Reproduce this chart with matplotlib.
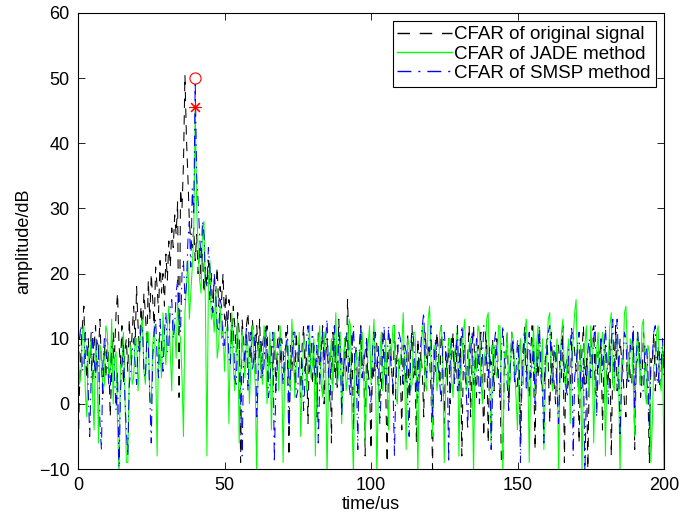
"""
plot.py - CFAR output comparison (original / JADE / SMSP), MATLAB-style figure.
"""
import numpy as np
import matplotlib
matplotlib.use('Agg')
import matplotlib.pyplot as plt

plt.rcParams['font.family'] = ['Liberation Sans', 'DejaVu Sans']

# sample step of the CFAR outputs, us
DT = 0.5

# CFAR of original signal (dB), one row per 10 us
cfar_orig = [
    -9, 2, 8, 12, 15, 7, 4, 10, 6, 11, 3, 9, 12, 5, 8, 13, 6, 1, 9, 4,
    10, 7, -2, 5, 11, 8, 14, 17, 9, 6, 12, 3, 8, 10, 5, 13, 7, 11, 15, 9,
    18, 12, 8, 15, 11, 17, 14, 9, 19, 13, 20, 16, 12, 21, 18, 14, 22, 17, 20, 15,
    23, 19, 25, 21, 27, 24, 29, 26, 31, 1, 33, 30, 37, 50.5, 41, 35, 28, 25, 24, 27,
    22, 26, 20, 24, 19, 23, 17, 21, 18, 22, 16, 20, 14, 19, 17, 21, 15, 18, 16, 20,
    13, 17, 11, 16, 14, 9, 15, 12, 8, 14, 11, -9, 13, 10, 6, 12, 14, 9, 7, 13,
    10, 6, 12, 8, 13, 4, 9, 11, 7, 12, 3, 10, 8, 5, 11, 2, 9, 12, 6, 10,
    8, 4, 11, 7, -8, 9, 5, 10, 3, 11, 6, 8, 1, 9, 12, 5, 7, -3, 10, 6,
    3, 9, 6, -2, 11, 4, 8, 12, 0, 7, 10, 4, 8, -6, 11, 5, 9, 2, 13, 6,
    7, 2, 10, 5, 16, 8, 3, 11, -4, 7, 9, 1, 6, 12, 4, 8, -8, 10, 5, 3,
    -7, 6, 4, 11, 9, 2, 0, 8, 11, 5, 3, -9, 7, 10, 6, 1, 12, 4, 9, 6,
    5, -4, 9, 7, 3, 11, 1, 8, 12, 4, 6, -6, 10, 3, 8, 5, -2, 11, 7, 9,
    7, 2, -10, 9, 5, 11, 8, 3, 12, 6, -3, 8, 4, 10, 0, 7, 11, 5, 9, 2,
    4, 10, -8, 6, 9, 3, 7, 12, -2, 8, 12, 5, 1, 9, 6, 11, 3, -5, 8, 10,
    -6, 7, 6, 10, 2, 8, 10, 4, 4, -9, -9, 6, 7, 11, 0, 5, 11, 8, 5, 2,
    3, 9, -5, 6, 9, 12, 6, 3, 1, 8, 12, 5, -7, 9, 4, 10, 8, 2, 2, 7,
    10, 6, -3, 11, 6, 3, 0, 9, 9, 5, 4, 12, -9, 6, 7, 3, 2, 10, 11, 8,
    5, 9, -6, 4, 8, 12, 3, 7, -10, 5, 6, 11, 12, 2, 1, 8, 7, 10, -4, 6,
    9, 3, 4, 10, -8, 6, 6, 12, 2, 5, 10, 7, 5, 0, -2, 9, 8, 4, 3, 11,
    -7, 6, 7, 10, 1, 4, 11, 8, 4, 2, -9, 7, 6, 11, 2, 5, 9, 3, 5, 8,
    7,
]

# CFAR after JADE separation (dB)
cfar_jade = [
    9, 3, 4, 11, 12, 2, -2, 8, 7, 10, 1, -4, 10, 6, -6, 9, 8, 2, 3, 12,
    11, 4, 5, 13, 0, 7, 8, -3, -11, 6, 6, 11, 2, -9, -9, 5, 9, 3, 4, 10,
    10, 2, 7, 12, 13, 5, 3, 11, 11, 1, 0, 9, 12, 6, -8, 10, 8, 4, 14, 9,
    6, 12, 15, 8, 2, 13, 12, 7, 16, 11, 10, 4, -5, 14, 18, 22, 13, 17, 21, 26,
    45.6, 30, 24, 19, 17, 27, 28, 15, -8, 18, 22, 13, 14, 11, 18, 7, 9, 15, 10, 12,
    5, 11, 12, -3, 9, 14, 6, 2, 8, 13, -6, 4, 11, 7, 4, 10, 9, 0, 6, 12,
    7, 3, -11, 8, 10, 5, 3, 12, 9, 0, 6, 11, -4, 5, 11, 7, 8, 2, 12, 6,
    -9, 4, 9, 10, 4, 2, 13, 8, 1, 6, 7, 11, -5, 3, 10, 9, 2, 7, 12, 4,
    6, 10, -8, 5, 9, 12, 3, 1, 11, 7, -11, 4, 7, 10, 2, 9, 14, 3, 5, 11,
    -3, 6, 10, 2, 4, 13, 12, -2, -11, 7, 8, 4, 1, 9, 11, 5, -6, 3, 9, 12,
    3, 8, 13, 6, -11, 2, 7, 11, 2, 5, 10, 3, -4, 9, 8, 12, 12, 1, 0, 7,
    6, 9, 14, 4, -7, 10, 9, 2, 3, 11, 11, 5, -11, 7, 5, 12, 10, 3, 2, 13,
    15, 6, -5, 9, 8, 2, 4, 11, 12, 7, -9, 3, 6, 10, 10, 4, 1, 8, 9, 12,
    -8, 5, 7, 11, 13, 2, 3, 9, 10, 6, -11, 8, 5, 12, 11, 4, 0, 7, 8, 13,
    14, 3, -6, 9, 9, 5, 4, 12, 12, 2, -11, 8, 7, 11, 2, 4, 11, 10, 6, 1,
    -4, 7, 10, 3, 3, 11, 13, 6, -9, 4, 8, 12, 1, 9, 12, 5, 5, 10, -7, 3,
    9, 13, 14, 4, 2, 8, 7, 10, -11, 5, 11, 13, 4, 2, 8, 10, -3, 6, 10, 14,
    16, 5, 1, 9, -11, 4, 9, 12, 5, 1, 12, 8, -6, 4, 8, 11, 3, 7, 11, 9,
    -8, 5, 7, 12, 14, 3, 2, 9, 10, 4, -11, 7, 6, 14, 15, 8, 4, 10, 9, 3,
    -5, 8, 11, 6, 3, 12, 13, 2, 0, 9, 8, -9, -3, 6, 6, 11, 12, 4, 2, 9,
    -11,
]

# CFAR after SMSP separation (dB)
cfar_smsp = [
    3, 10, 12, 5, 6, 11, 9, 2, -5, 4, 11, 7, 4, 10, 8, -3, -7, 6, 10, 8,
    7, 3, 2, 9, 9, 4, -1, 5, -11, 2, 6, 9, 1, -4, -8, 3, 5, 8, 10, 6,
    3, 9, 8, 12, 12, 5, 4, 10, 9, 1, -6, 7, 11, 13, 7, 4, 13, 9, 5, 11,
    14, 8, 9, 15, 16, 10, 12, 17, 19, 13, 11, 20, 22, 16, 18, 25, 28, 21, 33, 29,
    49.5, 35, 31, 26, 22, 28, 26, 19, 18, 24, 21, 15, 14, 20, 17, 12, 11, 16, 15, 9,
    9, 14, 13, 7, 6, 12, 12, 4, 3, 10, 10, 1, -8, 6, 8, 12, 2, 7, 11, 5,
    7, 11, -2, 4, 9, 10, 4, 6, 12, 8, 1, 3, 8, 11, -9, 2, 6, 9, 10, 7,
    3, 8, 9, 12, -4, 5, 7, 11, 11, 1, 2, 9, 8, 6, -1, 4, 10, 12, 5, 7,
    12, 6, 4, 9, -6, 3, 9, 11, 6, 10, 13, 5, 0, 7, 8, 12, 3, 4, 11, 9,
    -2, 5, 7, 11, 10, 3, 1, 8, 12, 6, 5, -7, 9, 12, 4, 6, 8, 10, 3, 2,
    0, 8, 11, 5, 6, 9, -3, 2, 9, 12, 2, 6, 12, 8, 5, 3, -8, 4, 7, 11,
    10, 6, 3, 9, 8, 1, -5, 7, 11, 10, 6, 3, 1, 8, 9, 12, 14, 6, 4, 9,
    8, 12, -2, 5, 10, 7, 5, 3, 0, 9, 11, 8, 7, -9, 6, 10, 9, 3, 7, 12,
    2, 7, 12, 9, 5, 2, -4, 6, 8, 11, 3, 5, 10, 8, 0, 4, 7, 12, 11, 6,
    4, 9, -7, 2, 9, 11, 6, 4, 1, 8, 12, 7, 5, 3, -1, 6, 8, 10, 3, 5,
    10, 6, -9, 3, 7, 11, 2, 8, 11, 4, 6, 9, 0, 5, 9, 12, 4, 2, -6, 7,
    8, 11, 12, 6, 3, 9, 7, 2, -3, 5, 10, 8, 5, 3, 1, 9, 9, 12, -8, 4,
    6, 9, 11, 4, 2, 7, -11, 3, 8, 10, 4, 6, 10, 12, -2, 5, 7, 10, 5, 8,
    12, 7, 0, 5, 9, 13, 4, 8, 13, 6, -5, 3, 7, 11, 10, 4, 3, 9, 8, 12,
    -1, 6, 11, 8, 6, 2, 2, 9, 9, 5, -4, 6, 7, 11, 12, 4, 3, 8, 6, 10,
    4,
]

# detected peaks (time us, dB)
peak_smsp = (40, 50)
peak_jade = (40, 45.6)


def main():
    fig = plt.figure(figsize=(6.8, 5.17), dpi=100)
    ax = fig.add_axes([0.1147, 0.0928, 0.8618, 0.8821])

    series = [
        (cfar_orig, dict(color='k', ls=(0, (9, 7)), label='CFAR of original signal')),
        (cfar_jade, dict(color=(0, 1, 0), ls='-', label='CFAR of JADE method')),
        (cfar_smsp, dict(color=(0, 0, 1), ls=(0, (10, 5, 1.5, 5)),
                         label='CFAR of SMSP method')),
    ]
    for vals, kw in series:
        t = np.arange(len(vals)) * DT
        ax.plot(t, vals, lw=0.75, **kw)

    ax.plot(*peak_smsp, marker='o', ms=8, mfc='none', mec='r', mew=0.8)
    ax.plot(*peak_jade, marker=(8, 2, 0), ms=9, color='r', mew=0.8)

    ax.set_xlim(0, 200)
    ax.set_ylim(-10, 60)
    ax.set_xticks(np.arange(0, 201, 50))
    ax.set_yticks(np.arange(-10, 61, 10))
    ax.tick_params(direction='in', top=True, right=True, labelsize=13,
                   length=5, width=0.6, pad=6)
    for s in ax.spines.values():
        s.set_linewidth(0.8)

    ax.set_xlabel('time/us', fontsize=13, labelpad=1)
    ax.set_ylabel('amplitude/dB', fontsize=13, labelpad=5)

    leg = ax.legend(loc='upper right', fontsize=13.5, fancybox=False,
                    framealpha=1, edgecolor='k', borderpad=0.25,
                    labelspacing=0.12, handlelength=2.9, handletextpad=0.15,
                    borderaxespad=0.45)
    leg.get_frame().set_linewidth(0.8)
    for h in leg.get_lines():
        h.set_linewidth(1.0)

    fig.savefig('out.png', dpi=100)


if __name__ == '__main__':
    main()
